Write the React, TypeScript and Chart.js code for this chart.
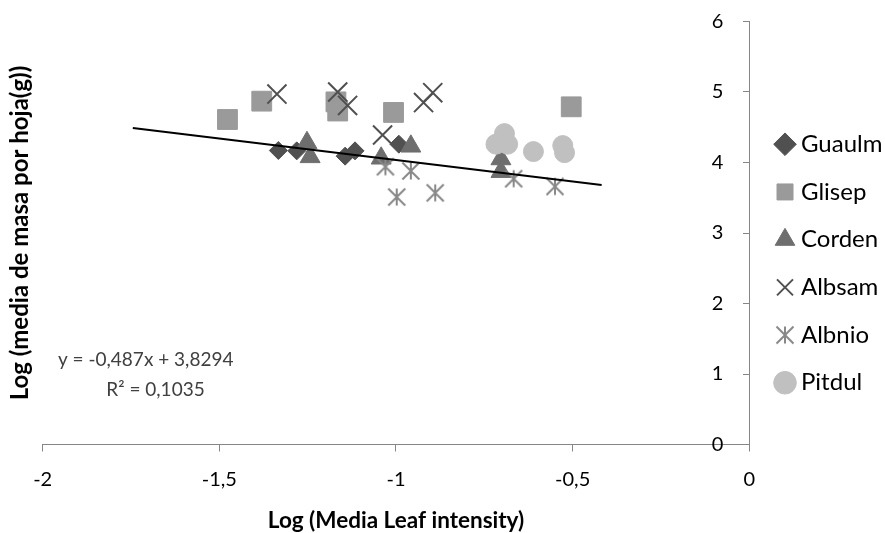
import React, { useEffect, useRef } from 'react';
import { Chart, registerables } from 'chart.js';

Chart.register(...registerables);

const seriesNames = ['Guaulm', 'Glisep', 'Corden', 'Albsam', 'Albnio', 'Pitdul'];
const guaulmX = [-1.333, -1.281, -1.144, -1.116, -0.992];
const guaulmY = [4.17, 4.165, 4.09, 4.165, 4.26];
const glisepX = [-1.477, -1.38, -1.17, -1.165, -1.007, -0.504];
const glisepY = [4.61, 4.87, 4.86, 4.73, 4.71, 4.79];
const cordenX = [-1.252, -1.243, -1.042, -0.958, -0.703, -0.703];
const cordenY = [4.28, 4.08, 4.06, 4.23, 4.05, 3.87];
const albsamX = [-1.337, -1.165, -1.137, -1.038, -0.922, -0.896];
const albsamY = [4.97, 5.0, 4.81, 4.39, 4.85, 4.99];
const albnioX = [-1.03, -0.958, -0.998, -0.889, -0.667, -0.55];
const albnioY = [3.94, 3.88, 3.51, 3.57, 3.77, 3.66];
const pitdulX = [-0.693, -0.717, -0.684, -0.611, -0.528, -0.523];
const pitdulY = [4.41, 4.26, 4.26, 4.155, 4.24, 4.14];
const trendX = [-1.745, -0.418];
const trendY = [4.49, 3.68];
const xTicks = [-2, -1.5, -1, -0.5, 0];
const xTickLabels = ['-2', '-1,5', '-1', '-0,5', '0'];
const yTicks = [0, 1, 2, 3, 4, 5, 6];
const yTickLabels = ['0', '1', '2', '3', '4', '5', '6'];
const equationLines = ['y = -0,487x + 3,8294', 'R² = 0,1035'];
const equationX = [-1.957, -1.82];
const equationY = [1.2, 0.78];
const xTitle = 'Log (Media Leaf intensity)';
const yTitle = 'Log (media de masa por hoja(g))';

const FONT = 'Lato';
const LEGEND_SIZE = 24;
const LEGEND_PAD = 23.7;
const LEGEND_BOX = 8;
const PLOT_RIGHT = 749.3;
const Y_LABEL_GAP = 26; // px between y tick labels and the y axis line
const W = 885;
const H = 533;

function pts(xs: number[], ys: number[]) {
  return xs.map((x, i) => ({ x, y: ys[i] }));
}

function makeAsterisk(size: number, color: string, lw: number) {
  const c = document.createElement('canvas');
  c.width = size;
  c.height = size;
  const g = c.getContext('2d')!;
  g.strokeStyle = color;
  g.lineWidth = lw;
  const m = size / 2;
  const r = size / 2 - 1.5;
  g.beginPath();
  g.moveTo(m, m - r);
  g.lineTo(m, m + r);
  g.moveTo(m - r, m - r);
  g.lineTo(m + r, m + r);
  g.moveTo(m + r, m - r);
  g.lineTo(m - r, m + r);
  g.stroke();
  return c;
}

export default function App() {
  const ref = useRef<HTMLCanvasElement>(null);

  useEffect(() => {
    document.body.style.margin = '0';
    const canvas = ref.current!;
    const asterisk = makeAsterisk(20, '#888888', 2);
    // x value at which the y tick labels' right edge sits (a fixed pixel gap left of x = 0)
    const labelAxisX = -(2 * Y_LABEL_GAP) / (PLOT_RIGHT - 42.7);

    const extras = {
      id: 'extras',
      afterDraw(chart: any) {
        const { ctx } = chart;
        const ys = chart.scales.y;
        const xs = chart.scales.x;
        ctx.save();
        ctx.font = `19px ${FONT}`;
        ctx.fillStyle = '#404040';
        ctx.textAlign = 'left';
        ctx.textBaseline = 'middle';
        equationLines.forEach((line, i) => {
          ctx.fillText(line, xs.getPixelForValue(equationX[i]), ys.getPixelForValue(equationY[i]));
        });
        ctx.restore();
      },
    };

    const mk = (label: string, data: any, opts: any, order: number) => ({
      label,
      data,
      order,
      xAxisID: 'x',
      yAxisID: 'y',
      ...opts,
    });

    const yTickCallback = (v: any) => {
      const i = yTicks.indexOf(Number(v));
      return i >= 0 ? yTickLabels[i] : '';
    };

    const chart = new Chart(canvas, {
      type: 'scatter',
      data: {
        datasets: [
          mk(seriesNames[0], pts(guaulmX, guaulmY), { pointStyle: 'rectRot', pointRadius: 9, backgroundColor: '#505050', borderColor: '#505050', borderWidth: 1 }, 6),
          mk(seriesNames[1], pts(glisepX, glisepY), { pointStyle: 'rect', pointRadius: 14, backgroundColor: '#9a9a9a', borderColor: '#9a9a9a', borderWidth: 1 }, 5),
          mk(seriesNames[2], pts(cordenX, cordenY), { pointStyle: 'triangle', pointRadius: 11.5, backgroundColor: '#6e6e6e', borderColor: '#6e6e6e', borderWidth: 1 }, 4),
          mk(seriesNames[3], pts(albsamX, albsamY), { pointStyle: 'crossRot', pointRadius: 13.5, backgroundColor: '#505050', borderColor: '#505050', borderWidth: 2 }, 3),
          mk(seriesNames[4], pts(albnioX, albnioY), { pointStyle: asterisk, pointRadius: 10, backgroundColor: '#888888', borderColor: '#888888', borderWidth: 2 }, 2),
          mk(seriesNames[5], pts(pitdulX, pitdulY), { pointStyle: 'circle', pointRadius: 10, backgroundColor: '#c0c0c0', borderColor: '#c0c0c0', borderWidth: 1 }, 1),
          {
            label: 'trend',
            data: pts(trendX, trendY),
            xAxisID: 'x',
            yAxisID: 'y',
            showLine: true,
            pointRadius: 0,
            borderColor: '#000000',
            borderWidth: 2,
            order: 0,
          } as any,
        ],
      },
      options: {
        animation: false,
        responsive: false,
        devicePixelRatio: 1,
        events: [],
        layout: { padding: { top: 0, right: 0, bottom: 6, left: 0 } },
        plugins: {
          tooltip: { enabled: false },
          legend: {
            position: 'right',
            fullSize: true,
            align: 'center',
            maxWidth: 300,
            labels: {
              usePointStyle: true,
              boxWidth: LEGEND_BOX,
              boxHeight: 16,
              padding: LEGEND_PAD,
              color: '#000000',
              font: { family: FONT, size: LEGEND_SIZE },
              filter: (item: any) => item.text !== 'trend',
              sort: (a: any, b: any) => a.datasetIndex - b.datasetIndex,
            },
          },
        },
        scales: {
          x: {
            type: 'linear',
            position: 'bottom',
            min: -2,
            max: 0,
            afterBuildTicks: (s: any) => {
              s.ticks = xTicks.map((v) => ({ value: v }));
            },
            afterFit: (s: any) => {
              s.height = 82.5;
            },
            ticks: {
              padding: 16,
              color: '#000000',
              font: { family: FONT, size: 20 },
              callback: (v: any) => {
                const i = xTicks.indexOf(Number(v));
                return i >= 0 ? xTickLabels[i] : '';
              },
            },
            grid: { drawOnChartArea: false, drawTicks: true, tickLength: 7, color: '#868686' },
            border: { display: true, color: '#868686', width: 1 },
            title: {
              display: true,
              text: xTitle,
              color: '#000000',
              font: { family: FONT, size: 22.5, weight: 'bold' },
              padding: { top: 0, bottom: -7.5 },
            },
          },
          xTop: {
            type: 'linear',
            position: 'top',
            min: -2,
            max: 0,
            afterFit: (s: any) => {
              s.height = 21.5;
            },
            ticks: { display: false },
            grid: { display: false, drawTicks: false },
            border: { display: false },
          },
          y: {
            type: 'linear',
            position: { x: 0 },
            min: 0,
            max: 6,
            afterBuildTicks: (s: any) => {
              s.ticks = yTicks.map((v) => ({ value: v }));
            },
            ticks: { display: false },
            grid: { display: true, drawOnChartArea: false, drawTicks: true, tickLength: 6, color: '#868686' },
            border: { display: true, color: '#868686', width: 1 },
          },
          yLabels: {
            type: 'linear',
            position: { x: labelAxisX },
            min: 0,
            max: 6,
            afterBuildTicks: (s: any) => {
              s.ticks = yTicks.map((v) => ({ value: v }));
            },
            ticks: {
              padding: 0,
              color: '#000000',
              font: { family: FONT, size: 20 },
              callback: yTickCallback,
            },
            grid: { display: false, drawTicks: false },
            border: { display: false },
          },
          yGap: {
            type: 'linear',
            position: 'right',
            min: 0,
            max: 6,
            afterFit: (s: any) => {
              s.width = 8;
              s.paddingTop = 0;
              s.paddingBottom = 0;
            },
            ticks: { display: false },
            grid: { display: false, drawTicks: false },
            border: { display: false },
          },
          yTitle: {
            type: 'linear',
            position: 'left',
            min: 0,
            max: 6,
            afterFit: (s: any) => {
              s.width = 42.7;
              s.paddingTop = 0;
              s.paddingBottom = 0;
            },
            ticks: { display: false },
            grid: { display: false, drawTicks: false },
            border: { display: false },
            title: {
              display: true,
              text: yTitle,
              color: '#000000',
              font: { family: FONT, size: 24, weight: 'bold' },
              padding: { top: 6, bottom: 0 },
            },
          },
        },
      } as any,
      plugins: [extras],
    });

    // align the plot's right edge with the reference by tuning the outer padding
    for (let k = 0; k < 5; k++) {
      const diff = PLOT_RIGHT - chart.chartArea.right;
      if (Math.abs(diff) < 0.2) break;
      const pad = (chart.options as any).layout.padding;
      pad.right = pad.right - diff;
      chart.update();
    }

    return () => chart.destroy();
  }, []);

  return (
    <div style={{ width: W, height: H }}>
      <canvas ref={ref} width={W} height={H} style={{ display: 'block' }} />
    </div>
  );
}
